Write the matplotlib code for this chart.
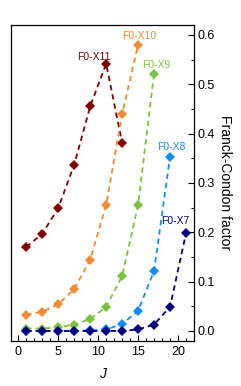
import matplotlib
matplotlib.use("Agg")
import matplotlib.pyplot as plt
from matplotlib.ticker import MultipleLocator

plt.rcParams["font.family"] = ["Liberation Sans", "DejaVu Sans"]

# Franck-Condon factors vs rotational quantum number J
j_x11 = [1, 3, 5, 7, 9, 11, 13]
fc_x11 = [0.170, 0.197, 0.249, 0.337, 0.455, 0.542, 0.381]

j_x10 = [1, 3, 5, 7, 9, 11, 13, 15]
fc_x10 = [0.033, 0.039, 0.054, 0.085, 0.144, 0.256, 0.440, 0.580]

j_x9 = [1, 3, 5, 7, 9, 11, 13, 15, 17]
fc_x9 = [0.005, 0.005, 0.0075, 0.013, 0.024, 0.049, 0.111, 0.256, 0.521]

j_x8 = [1, 3, 5, 7, 9, 11, 13, 15, 17, 19]
fc_x8 = [0.0, 0.0, 0.0, 0.0, 0.001, 0.003, 0.014, 0.041, 0.122, 0.353]

j_x7 = [1, 3, 5, 7, 9, 11, 13, 15, 17, 19, 21]
fc_x7 = [0.0, 0.0, 0.0, 0.0, 0.0, 0.0, 0.0, 0.003, 0.013, 0.049, 0.198]

series = [
    ("F0-X11", j_x11, fc_x11, "#800000", (9.5, 0.555)),
    ("F0-X10", j_x10, fc_x10, "#F28A36", (15.1, 0.598)),
    ("F0-X9", j_x9, fc_x9, "#7DC143", (17.3, 0.540)),
    ("F0-X8", j_x8, fc_x8, "#148CFF", (19.2, 0.372)),
    ("F0-X7", j_x7, fc_x7, "#000080", (19.6, 0.223)),
]

fig = plt.figure(figsize=(2.41, 3.86), dpi=100)
ax = fig.add_axes([0.046, 0.117, 0.759, 0.818])

for name, j, fc, color, (tx, ty) in series:
    ax.plot(j, fc, linestyle=(0, (3.0, 2.2)), color=color, linewidth=1.3,
            marker="D", markersize=5, markeredgewidth=0)
    ax.text(tx, ty, name, color=color, fontsize=7.5, ha="center", va="center")

ax.set_xlim(-0.9, 22)
ax.set_ylim(-0.02, 0.62)
ax.xaxis.set_major_locator(MultipleLocator(5))
ax.xaxis.set_minor_locator(MultipleLocator(1))
ax.yaxis.set_major_locator(MultipleLocator(0.1))
ax.yaxis.set_minor_locator(MultipleLocator(0.05))
ax.yaxis.tick_right()
ax.yaxis.set_label_position("right")
ax.tick_params(axis="both", which="major", direction="in", length=4, width=0.8, labelsize=9)
ax.tick_params(axis="both", which="minor", direction="in", length=2.2, width=0.8)
ax.tick_params(axis="y", pad=2.5)
ax.set_yticks([0.0, 0.1, 0.2, 0.3, 0.4, 0.5, 0.6])
ax.set_yticklabels(["0.0", "0.1", "0.2", "0.3", "0.4", "0.5", "0.6"])
ax.set_xlabel("J", fontsize=10, style="italic", labelpad=7)
ax.set_ylabel("Franck-Condon factor", fontsize=10, rotation=270, labelpad=12)
for s in ax.spines.values():
    s.set_linewidth(0.9)

fig.savefig("out.png", dpi=100)
